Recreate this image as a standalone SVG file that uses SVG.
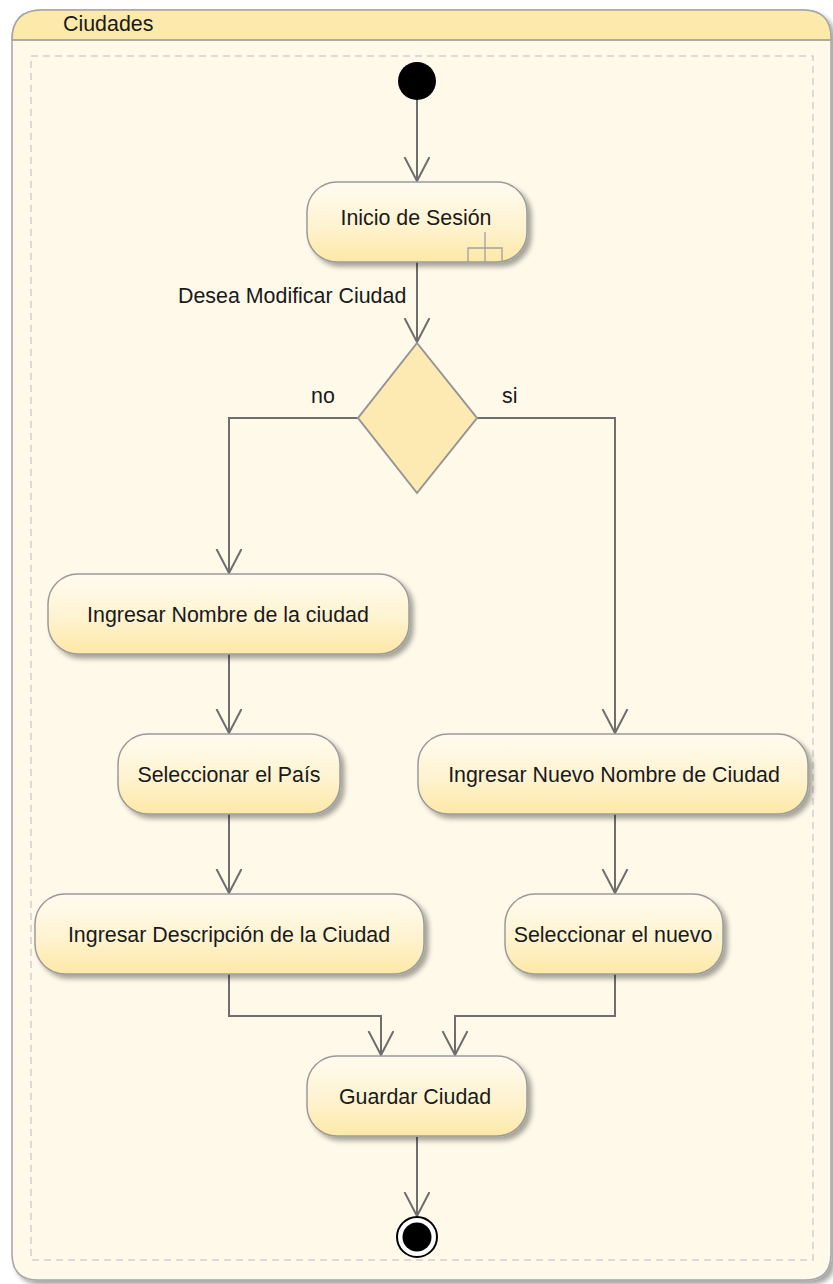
<svg xmlns="http://www.w3.org/2000/svg" width="833" height="1284" viewBox="0 0 833 1284">
<defs>
  <linearGradient id="nodeGrad" x1="0" y1="0" x2="0" y2="1">
    <stop offset="0" stop-color="#fffbf0"/>
    <stop offset="0.55" stop-color="#fef3d0"/>
    <stop offset="1" stop-color="#fde8a6"/>
  </linearGradient>
  <filter id="shadow" x="-10%" y="-10%" width="130%" height="140%">
    <feGaussianBlur in="SourceAlpha" stdDeviation="2.5"/>
    <feOffset dx="4" dy="4" result="b"/>
    <feComponentTransfer><feFuncA type="linear" slope="0.35"/></feComponentTransfer>
    <feMerge><feMergeNode/><feMergeNode in="SourceGraphic"/></feMerge>
  </filter>
  <marker id="arrow" markerWidth="30" markerHeight="30" refX="24" refY="12.5" orient="auto" markerUnits="userSpaceOnUse">
    <path d="M0,0 L24,12.5 L0,25" fill="none" stroke="#6e6e6e" stroke-width="2"/>
  </marker>
  <style>
    .node { fill: url(#nodeGrad); stroke: #9a9a9a; stroke-width: 1.5; filter: url(#shadow); }
    .lbl { font-family: "Liberation Sans", Arial, sans-serif; font-size: 21.4px; fill: #1a1a1a; }
    .ctr { text-anchor: middle; }
    .edge { fill: none; stroke: #6e6e6e; stroke-width: 2; marker-end: url(#arrow); }
  </style>
</defs>

<g id="frame">
  <path d="M12,40 Q12,10 42,10 L803,10 Q831,10 831,38 L831,1254 Q831,1280 805,1280 L38,1280 Q12,1280 12,1254 Z" fill="#fef9e9" stroke="#a6a6a6" stroke-width="1.5" filter="url(#shadow)"/>
  <path d="M12,40 Q12,10 42,10 L803,10 Q831,10 831,38 L831,40 Z" fill="#fde9a9" stroke="#a6a6a6" stroke-width="1.5"/>
  <line x1="12" y1="40" x2="831" y2="40" stroke="#a6a6a6" stroke-width="1.5"/>
  <text class="lbl" x="63" y="31">Ciudades</text>
  <rect x="31" y="56" width="782" height="1204" fill="none" stroke="#cfcfcf" stroke-width="1.5" stroke-dasharray="7,5"/>
</g>

<g id="connectors">
  <path class="edge" d="M417,99 L417,181"/>
  <path class="edge" d="M417,262 L417,342"/>
  <path class="edge" d="M358,418 L229,418 L229,573"/>
  <path class="edge" d="M477,418 L615,418 L615,733"/>
  <path class="edge" d="M229,654 L229,733"/>
  <path class="edge" d="M229,814 L229,893"/>
  <path class="edge" d="M615,814 L615,893"/>
  <path class="edge" d="M229,974 L229,1016 L381,1016 L381,1055"/>
  <path class="edge" d="M615,974 L615,1016 L455,1016 L455,1055"/>
  <path class="edge" d="M417,1137 L417,1216"/>
  <text class="lbl" x="178" y="303">Desea Modificar Ciudad</text>
  <text class="lbl" x="311" y="403">no</text>
  <text class="lbl" x="502" y="403">si</text>
</g>

<g id="start">
  <circle cx="417" cy="81" r="19" fill="#000"/>
</g>

<g id="inicio">
  <rect class="node" x="307" y="182" width="220" height="80" rx="30" ry="30"/>
  <text class="lbl ctr" x="416" y="225">Inicio de Sesión</text>
  <path d="M468,262 L468,248 L502,248 L502,262 M485,232 L485,262" fill="none" stroke="#a0a0a0" stroke-width="1.3"/>
</g>

<g id="decision">
  <polygon points="417,343 477,418 417,493 358,418" fill="#fdeab2" stroke="#959595" stroke-width="2"/>
</g>

<g id="nombre">
  <rect class="node" x="48" y="574" width="361" height="80" rx="30" ry="30"/>
  <text class="lbl ctr" x="228" y="622">Ingresar Nombre de la ciudad</text>
</g>

<g id="pais">
  <rect class="node" x="118" y="734" width="222" height="80" rx="30" ry="30"/>
  <text class="lbl ctr" x="229" y="782">Seleccionar el País</text>
</g>

<g id="descripcion">
  <rect class="node" x="35" y="894" width="389" height="80" rx="30" ry="30"/>
  <text class="lbl ctr" x="229" y="942">Ingresar Descripción de la Ciudad</text>
</g>

<g id="nuevoNombre">
  <rect class="node" x="418" y="734" width="390" height="80" rx="30" ry="30"/>
  <text class="lbl ctr" x="614" y="782">Ingresar Nuevo Nombre de Ciudad</text>
</g>

<g id="nuevo">
  <rect class="node" x="505" y="894" width="218" height="80" rx="30" ry="30"/>
  <text class="lbl ctr" x="613" y="942">Seleccionar el nuevo</text>
</g>

<g id="guardar">
  <rect class="node" x="307" y="1056" width="220" height="80" rx="30" ry="30"/>
  <text class="lbl ctr" x="415" y="1104">Guardar Ciudad</text>
</g>

<g id="final">
  <circle cx="417" cy="1237" r="20" fill="#fff" stroke="#000" stroke-width="2"/>
  <circle cx="417" cy="1237" r="14.5" fill="#000"/>
</g>
</svg>
